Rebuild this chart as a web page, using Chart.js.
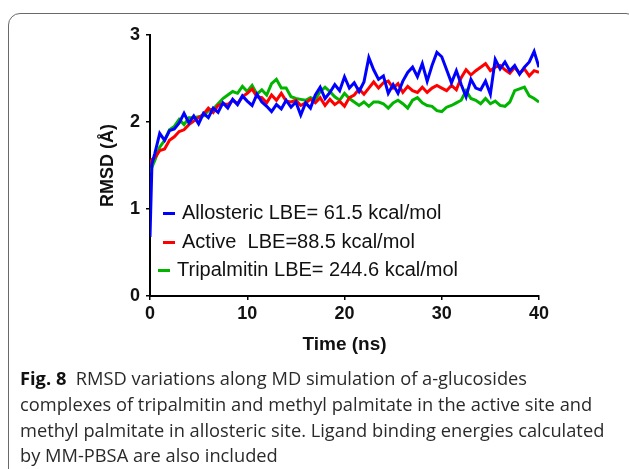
<!DOCTYPE html>
<html lang="en">
<head>
    <meta charset="UTF-8">
    <title>RMSD Fig. 8</title>
    <script src="https://cdn.jsdelivr.net/npm/chart.js"></script>
    <style>
        html, body { margin: 0; padding: 0; background: #fff; }
        body { width: 629px; height: 469px; position: relative; overflow: hidden; }
        #frame {
            position: absolute; left: 8px; top: 13px; width: 630px; height: 500px;
            border: 1.5px solid #6a6a6a; border-radius: 12px; box-sizing: border-box;
        }
        #chartWrap { position: absolute; left: 0; top: 0; width: 629px; height: 469px; }
        .legend { position: absolute; font-family: "Liberation Sans", Arial, sans-serif; font-size: 20px; color: #111; }
        .legend div { position: absolute; white-space: nowrap; height: 24px; line-height: 24px; }
        .legend span.mk { display: inline-block; width: 12px; height: 3px; vertical-align: middle; margin-right: 7px; }
        #caption {
            position: absolute; left: 20px; top: 364px; width: 610px;
            font-family: "Open Sans", sans-serif; font-size: 18.5px; color: #2a2a2a;
        }
        #caption .ln { position: absolute; left: 0; white-space: nowrap; transform-origin: 0 0; line-height: 22px; }
        #caption b { font-weight: 700; color: #111; }
    </style>
</head>
<body>
    <div id="frame"></div>
    <div id="chartWrap"><canvas id="rmsdChart" width="629" height="469"></canvas></div>

    <div class="legend" id="legend"></div>

    <div id="caption">
        <span class="ln" style="top:3px"><b>Fig. 8</b>&nbsp; RMSD variations along MD simulation of a-glucosides</span>
        <span class="ln" style="top:29px">complexes of tripalmitin and methyl palmitate in the active site and</span>
        <span class="ln" style="top:55px">methyl palmitate in allosteric site. Ligand binding energies calculated</span>
        <span class="ln" style="top:80px">by MM-PBSA are also included</span>
    </div>

    <script>
        // time (ns)
        const time = [0, 0.2, 0.5, 1, 1.5, 2, 2.5, 3, 3.5, 4, 4.5, 5, 5.5, 6, 6.5, 7, 7.5, 8, 8.5, 9, 9.5,
            10, 10.5, 11, 11.5, 12, 12.5, 13, 13.5, 14, 14.5, 15, 15.5, 16, 16.5, 17, 17.5, 18, 18.5, 19, 19.5,
            20, 20.5, 21, 21.5, 22, 22.5, 23, 23.5, 24, 24.5, 25, 25.5, 26, 26.5, 27, 27.5, 28, 28.5, 29, 29.5,
            30, 30.5, 31, 31.5, 32, 32.5, 33, 33.5, 34, 34.5, 35, 35.5, 36, 36.5, 37, 37.5, 38, 38.5, 39, 39.5, 40];

        // RMSD (A) - methyl palmitate, allosteric site
        const allosteric = [0.68, 1.52, 1.64, 1.87, 1.79, 1.90, 1.92, 1.99, 2.10, 1.99, 2.07, 1.98, 2.10, 2.05, 2.16, 2.11, 2.22, 2.16, 2.26, 2.20, 2.30,
            2.24, 2.19, 2.32, 2.23, 2.18, 2.12, 2.20, 2.15, 2.25, 2.17, 2.23, 2.08, 2.22, 2.16, 2.31, 2.40, 2.27, 2.34, 2.43, 2.36,
            2.52, 2.39, 2.45, 2.35, 2.46, 2.74, 2.60, 2.49, 2.53, 2.33, 2.43, 2.33, 2.47, 2.57, 2.63, 2.52, 2.67, 2.47, 2.65, 2.80,
            2.75, 2.60, 2.45, 2.59, 2.43, 2.29, 2.49, 2.39, 2.37, 2.47, 2.32, 2.72, 2.61, 2.69, 2.59, 2.65, 2.55, 2.63, 2.69, 2.81, 2.63];

        // RMSD (A) - methyl palmitate, active site
        const active = [1.50, 1.57, 1.59, 1.67, 1.69, 1.79, 1.83, 1.89, 1.91, 1.97, 2.01, 2.05, 2.09, 2.16, 2.11, 2.19, 2.21, 2.20, 2.25, 2.21, 2.29,
            2.33, 2.38, 2.29, 2.28, 2.22, 2.31, 2.25, 2.33, 2.24, 2.23, 2.25, 2.19, 2.22, 2.26, 2.22, 2.28, 2.19, 2.26, 2.20, 2.24,
            2.18, 2.28, 2.31, 2.38, 2.32, 2.39, 2.46, 2.39, 2.45, 2.47, 2.39, 2.44, 2.34, 2.41, 2.36, 2.34, 2.40, 2.34, 2.39, 2.42,
            2.39, 2.36, 2.42, 2.37, 2.51, 2.60, 2.54, 2.59, 2.63, 2.67, 2.59, 2.63, 2.65, 2.60, 2.56, 2.63, 2.56, 2.61, 2.53, 2.59, 2.57];

        // RMSD (A) - tripalmitin
        const tripalmitin = [1.42, 1.48, 1.56, 1.71, 1.79, 1.91, 1.95, 2.03, 1.97, 2.05, 2.05, 2.06, 2.07, 2.13, 2.15, 2.21, 2.27, 2.31, 2.35, 2.33, 2.41,
            2.35, 2.42, 2.32, 2.37, 2.31, 2.44, 2.49, 2.39, 2.39, 2.29, 2.27, 2.26, 2.25, 2.28, 2.26, 2.35, 2.40, 2.35, 2.29, 2.25,
            2.33, 2.27, 2.23, 2.19, 2.23, 2.18, 2.23, 2.23, 2.21, 2.16, 2.22, 2.25, 2.21, 2.16, 2.25, 2.28, 2.22, 2.19, 2.18, 2.13,
            2.12, 2.17, 2.19, 2.22, 2.25, 2.36, 2.27, 2.25, 2.21, 2.27, 2.21, 2.24, 2.19, 2.18, 2.23, 2.36, 2.38, 2.40, 2.30, 2.27, 2.23];

        const seriesNames = ['Allosteric LBE= 61.5 kcal/mol', 'Active  LBE=88.5 kcal/mol', 'Tripalmitin LBE= 244.6 kcal/mol'];
        const seriesColors = ['#0000ff', '#ff0000', '#00b400'];
        const xTicks = [0, 10, 20, 30, 40];
        const yTicks = [0, 1, 2, 3];

        function toPoints(vals) {
            return vals.map((v, i) => ({ x: time[i], y: v }));
        }

        const axisFont = { family: '"Liberation Sans", Arial, sans-serif', size: 18, weight: 'bold' };

        const ctx = document.getElementById('rmsdChart').getContext('2d');
        const rmsdChart = new Chart(ctx, {
            type: 'line',
            data: {
                datasets: [allosteric, active, tripalmitin].map((vals, i) => ({
                    label: seriesNames[i],
                    data: toPoints(vals),
                    borderColor: seriesColors[i],
                    borderWidth: 3,
                    pointRadius: 0,
                    tension: 0,
                    fill: false
                }))
            },
            options: {
                responsive: false,
                animation: false,
                devicePixelRatio: 1,
                layout: { padding: { left: 97, top: 35, right: 90, bottom: 113 } },
                plugins: { legend: { display: false }, tooltip: { enabled: false } },
                scales: {
                    x: {
                        type: 'linear', min: 0, max: 40,
                        afterBuildTicks: s => { s.ticks = xTicks.map(v => ({ value: v })); },
                        afterFit: s => { s.height = 60; },
                        border: { color: '#000', width: 2 },
                        grid: { drawOnChartArea: false, drawTicks: true, tickLength: 4, color: '#000', lineWidth: 1.5 },
                        ticks: { color: '#111', font: axisFont, padding: 3, maxRotation: 0 },
                        title: { display: true, text: 'Time (ns)', color: '#111', padding: 0,
                            font: { family: '"Liberation Sans", Arial, sans-serif', size: 19, weight: 'bold' } }
                    },
                    y: {
                        type: 'linear', min: 0, max: 3,
                        afterBuildTicks: s => { s.ticks = yTicks.map(v => ({ value: v })); },
                        afterFit: s => { s.width = 53; },
                        border: { color: '#000', width: 2 },
                        grid: { drawOnChartArea: false, drawTicks: true, tickLength: 4, color: '#000', lineWidth: 1.5 },
                        ticks: { color: '#111', font: axisFont, padding: 6 },
                        title: { display: true, text: 'RMSD (Å)', color: '#111', padding: 0,
                            font: { family: '"Liberation Sans", Arial, sans-serif', size: 18, weight: 'bold' } }
                    }
                }
            }
        });

        // legend box inside the plot, like the original figure
        const legendTop = [200, 229, 257];
        const legendLeft = [163, 163, 158];
        const legendEl = document.getElementById('legend');
        seriesNames.forEach((name, i) => {
            const row = document.createElement('div');
            row.style.left = legendLeft[i] + 'px';
            row.style.top = legendTop[i] + 'px';
            row.innerHTML = '<span class="mk" style="background:' + seriesColors[i] + '"></span>' + name.replace(/ /g, '&nbsp;');
            legendEl.appendChild(row);
        });

        // caption: the full lines are fitted to the printed widths, the short last line uses the same squeeze
        const captionWidths = [532, 560, 568];
        const lines = document.querySelectorAll('#caption .ln');
        let sum = 0;
        captionWidths.forEach((tw, i) => { sum += tw / lines[i].getBoundingClientRect().width; });
        const squeeze = sum / captionWidths.length;
        lines.forEach(ln => { ln.style.transform = 'scaleX(' + squeeze + ')'; });
    </script>
</body>
</html>
